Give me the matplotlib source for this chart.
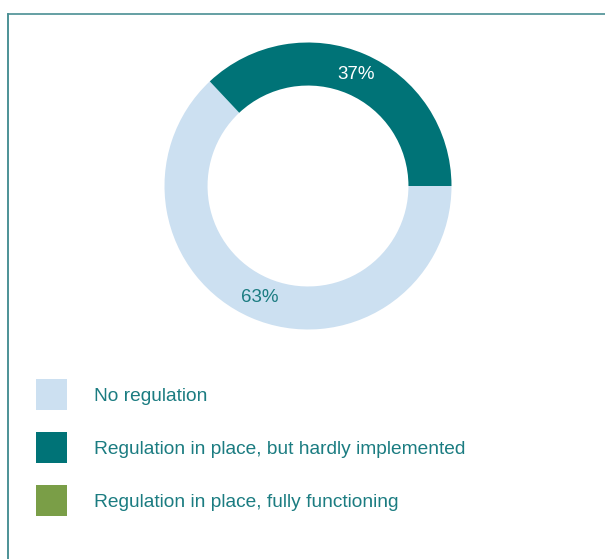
import matplotlib.pyplot as plt
from matplotlib.patches import Patch
from matplotlib.lines import Line2D

categories = ["No regulation", "Regulation in place, but hardly implemented", "Regulation in place, fully functioning"]
shares = [63, 37, 0]
colors = ["#cce0f1", "#007377", "#7a9e47"]
text_color = "#1b7c81"

plt.rcParams['font.family'] = ['Liberation Sans', 'DejaVu Sans']

W, H = 605, 559
fig = plt.figure(figsize=(W / 100, H / 100), dpi=100)

# donut axes placed in pixels: centre (308,186), radius 143.5
cx, cy, r = 308, 186, 143.5
ax = fig.add_axes([(cx - r) / W, (H - cy - r) / H, 2 * r / W, 2 * r / H])

# only the non-zero shares make wedges
vals = [v for v in shares if v > 0]
cols = [c for v, c in zip(shares, colors) if v > 0]
wedges, texts, autotexts = ax.pie(vals, colors=cols, startangle=133.2, radius=1,
                                  autopct='%d%%', pctdistance=0.85,
                                  wedgeprops=dict(width=0.3, linewidth=0),
                                  textprops=dict(fontsize=13.5))
autotexts[0].set_color(text_color)
autotexts[1].set_color("white")
ax.set_xlim(-1, 1)
ax.set_ylim(-1, 1)
ax.set_aspect('equal')
ax.axis('off')

# legend (square handles of ~31 px)
handles = [Patch(facecolor=c, edgecolor='none') for c in colors]
fs = 13.8
px = fs * 100 / 72
side = 31 / px
hh = (side - 0.245) / 0.65  # legend takes off a descent from handleheight
fig.legend(handles, categories, loc='upper left',
           bbox_to_anchor=(36 / W, 1 - 379 / H), frameon=False,
           fontsize=fs, labelcolor=text_color,
           handlelength=side, handleheight=hh,
           handletextpad=27 / px, labelspacing=22 / px,
           borderpad=0, borderaxespad=0)

# frame lines (left and top)
fig.add_artist(Line2D([7.5 / W, 7.5 / W], [0, 1 - 14 / H], color="#2d7f84", linewidth=1.2))
fig.add_artist(Line2D([7.5 / W, 1], [1 - 14 / H, 1 - 14 / H], color="#4a8f93", linewidth=1.2))

fig.savefig("out.png", dpi=100)
